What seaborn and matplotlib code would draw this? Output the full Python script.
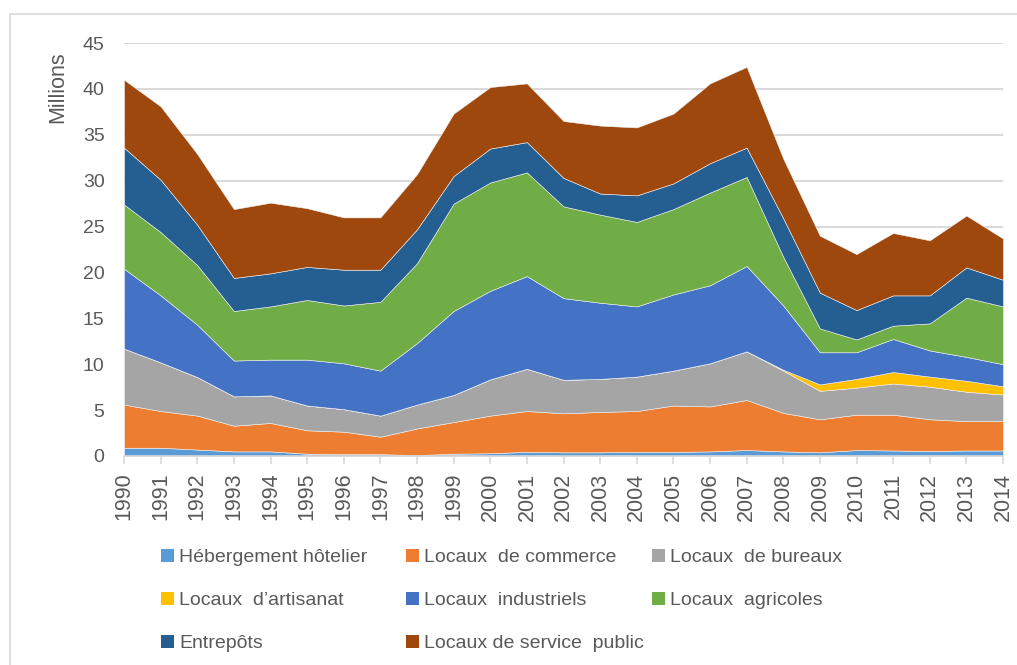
import matplotlib
matplotlib.use("Agg")
import matplotlib.pyplot as plt
import seaborn as sns
import numpy as np
from matplotlib.lines import Line2D

years = list(range(1990, 2015))

hebergement = [0.9, 0.9, 0.7, 0.5, 0.5, 0.25, 0.2, 0.2, 0.1, 0.25, 0.3, 0.45, 0.4,
               0.4, 0.45, 0.45, 0.5, 0.65, 0.5, 0.4, 0.65, 0.6, 0.55, 0.6, 0.6]
commerce = [4.7, 4.0, 3.7, 2.8, 3.1, 2.55, 2.45, 1.9, 2.9, 3.45, 4.1, 4.45, 4.25,
            4.4, 4.45, 5.05, 4.9, 5.45, 4.2, 3.6, 3.85, 3.9, 3.45, 3.2, 3.2]
bureaux = [6.1, 5.3, 4.2, 3.2, 3.0, 2.7, 2.45, 2.3, 2.6, 2.95, 3.95, 4.6, 3.65,
           3.6, 3.75, 3.8, 4.7, 5.3, 4.6, 3.1, 2.95, 3.4, 3.55, 3.2, 2.9]
artisanat = [0, 0, 0, 0, 0, 0, 0, 0, 0, 0, 0, 0, 0,
             0, 0, 0, 0, 0, 0.1, 0.7, 0.95, 1.25, 1.1, 1.2, 0.9]
industriels = [8.7, 7.3, 5.7, 3.9, 3.9, 5.0, 5.0, 4.9, 6.7, 9.15, 9.65, 10.1, 8.9,
               8.3, 7.65, 8.3, 8.5, 9.3, 7.0, 3.5, 2.9, 3.6, 2.85, 2.6, 2.4]
agricoles = [7.0, 6.9, 6.5, 5.4, 5.8, 6.5, 6.3, 7.5, 8.7, 11.7, 11.8, 11.3, 10.0,
             9.6, 9.2, 9.3, 10.1, 9.7, 5.3, 2.6, 1.4, 1.45, 2.95, 6.45, 6.3]
entrepots = [6.2, 5.7, 4.4, 3.6, 3.6, 3.6, 3.9, 3.5, 3.7, 3.0, 3.7, 3.3, 3.1,
             2.3, 2.9, 2.8, 3.2, 3.2, 4.2, 3.9, 3.2, 3.3, 3.05, 3.3, 2.9]
service_public = [7.4, 8.0, 7.7, 7.5, 7.7, 6.4, 5.7, 5.7, 6.0, 6.8, 6.7, 6.4, 6.2,
                  7.4, 7.4, 7.6, 8.7, 8.8, 6.5, 6.2, 6.1, 6.8, 6.0, 5.65, 4.5]

labels = ["Hébergement hôtelier", "Locaux  de commerce", "Locaux  de bureaux",
          "Locaux  d\u2019artisanat", "Locaux  industriels", "Locaux  agricoles",
          "Entrepôts", "Locaux de service  public"]
colors = ["#5B9BD5", "#ED7D31", "#A5A5A5", "#FFC000", "#4472C4", "#70AD47",
          "#255E91", "#9E480E"]
yticks = [0, 5, 10, 15, 20, 25, 30, 35, 40, 45]

sns.set_theme(style="white")
plt.rcParams["font.family"] = ["Liberation Sans", "DejaVu Sans"]
TXT = "#595959"
GRID = "#D9D9D9"

W, H = 1017, 665
fig = plt.figure(figsize=(W / 100, H / 100), dpi=100)
ax = fig.add_axes([124 / W, 1 - 456 / H, (1003 - 124) / W, (456 - 43) / H])

series = [hebergement, commerce, bureaux, artisanat, industriels, agricoles,
          entrepots, service_public]
polys = ax.stackplot(years, *series, colors=colors, labels=labels,
                     linewidth=0.4, edgecolor="#f2f2f2")

ax.set_xlim(1990, 2014)
ax.set_ylim(0, 45)
ax.set_yticks(yticks)
ax.set_xticks(years)
ax.set_axisbelow(True)
ax.yaxis.grid(True, color=GRID, linewidth=1.4)
ax.xaxis.grid(False)
for s in ["top", "right", "left"]:
    ax.spines[s].set_visible(False)
ax.spines["bottom"].set_color(GRID)
ax.spines["bottom"].set_linewidth(1.2)
ax.tick_params(axis="y", length=0, pad=14, labelsize=14, labelcolor=TXT)
ax.tick_params(axis="x", length=6, width=1.2, color=GRID, pad=6,
               labelsize=15.5, labelcolor=TXT, bottom=True)
for lab in ax.get_xticklabels():
    lab.set_rotation(90)
    lab.set_family(["Liberation Sans Narrow", "Liberation Sans", "DejaVu Sans"])

fig.text(58 / W, 1 - 87 / H, "Millions", rotation=90, ha="center", va="center",
         fontsize=15.5, color=TXT,
         family=["Liberation Sans Narrow", "Liberation Sans", "DejaVu Sans"])

# legend in three fixed columns (Excel-like layout)
handles = [plt.Rectangle((0, 0), 1, 1, facecolor=c, edgecolor="none") for c in colors]
columns = [([0, 3, 6], 161), ([1, 4, 7], 406), ([2, 5], 652)]
for idx, xpix in columns:
    leg = fig.legend([handles[i] for i in idx], [labels[i] for i in idx],
                     loc="upper left", bbox_to_anchor=(xpix / W, 1 - 549 / H),
                     frameon=False, borderpad=0, borderaxespad=0,
                     handlelength=0.65, handleheight=0.65, handletextpad=0.3,
                     labelspacing=1.32, fontsize=14, labelcolor=TXT)

# outer chart border (top and left visible)
fig.add_artist(Line2D([10 / W, 1], [1 - 14 / H, 1 - 14 / H], color=GRID, lw=1.2,
                      transform=fig.transFigure))
fig.add_artist(Line2D([10 / W, 10 / W], [0, 1 - 14 / H], color=GRID, lw=1.2,
                      transform=fig.transFigure))

fig.savefig("out.png", dpi=100)
